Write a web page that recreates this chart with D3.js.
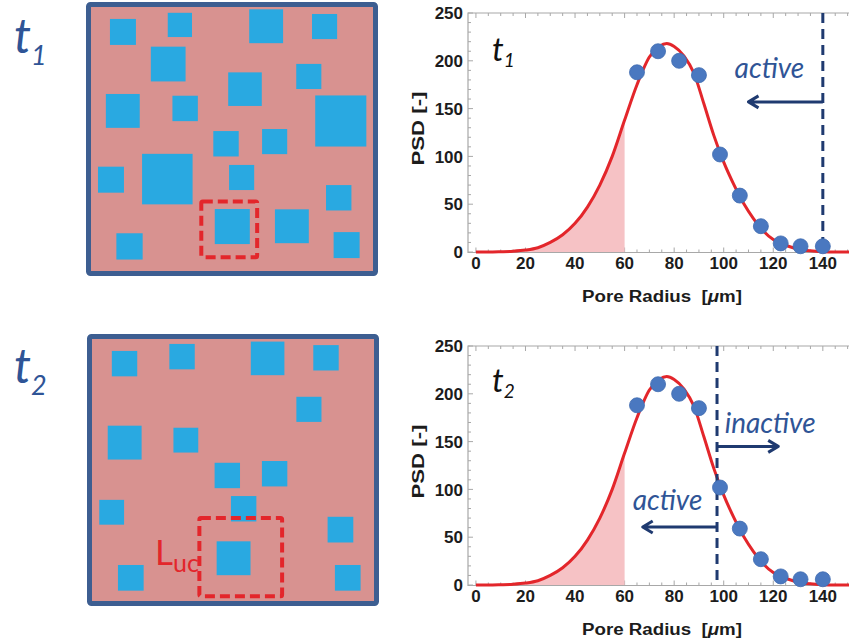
<!DOCTYPE html>
<html>
<head>
<meta charset="utf-8">
<script src="https://cdn.jsdelivr.net/npm/d3@7"></script>
<style>
	body { margin: 0; background: #fff; }
	svg { display: block; }
	.tick-label { font-family: "Liberation Sans", Arial, sans-serif; font-weight: bold; font-size: 17px; fill: #1c1c1c; }
	.axis-title { font-family: "Liberation Sans", Arial, sans-serif; font-weight: bold; font-size: 16px; fill: #1c1c1c; white-space: pre; }
	.note { font-family: Lato, "Noto Sans", sans-serif; font-style: italic; }
</style>
</head>
<body>
<div id="chart"></div>
<script>
// Fitted PSD curve
const curveX = [0, 5, 10, 15, 20, 25, 30, 35, 40, 45, 50, 55, 60, 65, 70, 74, 77, 80, 84, 88, 92, 96, 100, 104, 108, 112, 116, 120, 124, 128, 132, 136, 140, 145, 158];
const curveY = [0, 0, 0.3, 0.8, 2, 4.5, 10, 18, 30, 47, 70, 100, 138, 175, 204, 215, 218, 215, 205, 187, 155, 122, 94, 71, 51, 35, 22, 13, 8, 4.5, 2, 1, 0.3, 0, 0];

// Measured points
const dotX = [65, 73.5, 82, 90, 98.5, 106.5, 115, 123, 131, 140];
const dotY = [188, 210, 200, 185, 102, 59, 27, 9, 6, 6];

const xTicks = [0, 20, 40, 60, 80, 100, 120, 140];
const yTicks = [0, 50, 100, 150, 200, 250];
const shadeLimit = 60;

// Panel t1 / t2: cutoff radius
const cutoffs = [140, 97.3];
const timeLabels = ["1", "2"];

// Microstructure squares [x, y, size] in panel units (frame width = 100)
const squaresT1 = [
	[8.2, 5.8, 8.9], [28.0, 3.7, 8.3], [55.9, 2.5, 11.6], [77.4, 4.1, 8.6],
	[22.2, 15.3, 11.9], [48.7, 24.1, 11.5], [72.0, 21.2, 8.6], [6.8, 31.5, 11.6],
	[29.6, 32.1, 8.7], [78.5, 32.0, 17.5], [43.6, 44.2, 8.7], [60.3, 43.5, 8.6],
	[4.1, 56.4, 8.9], [19.2, 52.0, 17.3], [49.0, 55.8, 8.6], [82.2, 62.7, 8.7],
	[44.1, 70.9, 12.0], [64.7, 71.0, 11.6], [10.4, 79.2, 9.0], [84.8, 78.8, 8.9]
];
const squaresT2 = [
	[8.5, 5.8, 8.7], [28.2, 3.4, 8.7], [56.1, 2.6, 11.5], [77.5, 3.8, 8.7],
	[71.7, 21.5, 8.6], [7.1, 31.4, 11.6], [29.6, 32.1, 8.5], [43.7, 44.1, 8.7],
	[59.9, 43.5, 8.7], [4.2, 56.8, 8.5], [49.3, 55.5, 8.7], [82.4, 62.6, 8.8],
	[44.4, 71.0, 11.6], [10.6, 79.1, 8.8], [84.9, 79.1, 8.8]
];
// Unit cell boxes [x, y, w, h]
const cellT1 = [38.8, 67.6, 20.5, 20.5];
const cellT2 = [37.8, 62.3, 29.7, 28.2];

const W = 849, H = 642;
const svg = d3.select("#chart").append("svg").attr("width", W).attr("height", H);

const blue = "#2f5496";
const navy = "#1f3a70";
const red = "#e3262b";

// ---------- left panels ----------
function drawPanel(fx, fy, fh, squares, cell, sub, labelY) {
	const sx = d3.scaleLinear().domain([0, 100]).range([fx, fx + 292]);
	const sy = d3.scaleLinear().domain([0, 100]).range([fy, fy + 292]);
	const k = 2.92;
	const g = svg.append("g");

	g.append("rect")
		.attr("x", fx + 2.5).attr("y", fy + 2.5)
		.attr("width", 287).attr("height", fh - 5)
		.attr("rx", 2)
		.style("fill", "#d89290")
		.style("stroke", "#3d5e91")
		.style("stroke-width", 5);

	g.selectAll("rect.pore")
		.data(squares)
		.enter()
		.append("rect")
		.attr("class", "pore")
		.attr("x", (d) => sx(d[0]))
		.attr("y", (d) => sy(d[1]))
		.attr("width", (d) => d[2] * k)
		.attr("height", (d) => d[2] * k)
		.style("fill", "#29a9e1");

	g.append("rect")
		.attr("x", sx(cell[0]) + 2).attr("y", sy(cell[1]) + 2)
		.attr("width", cell[2] * k - 4).attr("height", cell[3] * k - 4)
		.attr("rx", 1.5)
		.style("fill", "none")
		.style("stroke", red)
		.style("stroke-width", 4)
		.style("stroke-dasharray", "10,5");

	const t = svg.append("text").attr("class", "note")
		.attr("x", 14).attr("y", labelY)
		.style("fill", blue);
	t.append("tspan").style("font-size", "48px").text("t");
	t.append("tspan").attr("dy", 12).style("font-size", "27px").text(sub);
	return { sx, sy };
}

drawPanel(86, 2, 274, squaresT1, cellT1, "1", 53);
drawPanel(87, 334, 272, squaresT2, cellT2, "2", 383);

const luc = svg.append("text").attr("class", "note")
	.attr("x", 155).attr("y", 565)
	.style("font-style", "normal")
	.style("fill", red);
luc.append("tspan").style("font-size", "35px").text("L");
luc.append("tspan").attr("dy", 7).style("font-size", "25px").text("uc");

// ---------- PSD charts ----------
const xScale = d3.scaleLinear().domain([-3.2, 155]).range([468, 860]);

function drawChart(oy, idx) {
	const yScale = d3.scaleLinear().domain([0, 250]).range([252 + oy, 13 + oy]);
	const g = svg.append("g");
	const x0 = xScale.range()[0];
	const yb = yScale(0) + 0.5;
	const yt = yScale(250);

	// frame
	g.append("path")
		.attr("d", `M${W},${yt}H${x0}V${yb}H${W}`)
		.style("fill", "none")
		.style("stroke", "#a8a8a8")
		.style("stroke-width", 1.2);

	// minor + major ticks
	const xMinor = d3.range(0, 156, 5);
	g.selectAll("line.xt")
		.data(xMinor)
		.enter()
		.append("line")
		.attr("x1", (d) => xScale(d)).attr("x2", (d) => xScale(d))
		.attr("y1", yb).attr("y2", (d) => yb - (d % 20 === 0 ? 5 : 3))
		.style("stroke", "#a8a8a8");
	g.selectAll("line.xtt")
		.data(xMinor)
		.enter()
		.append("line")
		.attr("x1", (d) => xScale(d)).attr("x2", (d) => xScale(d))
		.attr("y1", yt).attr("y2", (d) => yt + (d % 20 === 0 ? 5 : 3))
		.style("stroke", "#a8a8a8");
	g.selectAll("line.yt")
		.data(d3.range(0, 251, 10))
		.enter()
		.append("line")
		.attr("x1", x0).attr("x2", (d) => x0 + (d % 50 === 0 ? 5 : 3))
		.attr("y1", (d) => yScale(d)).attr("y2", (d) => yScale(d))
		.style("stroke", "#a8a8a8");

	// tick labels
	g.selectAll("text.yl")
		.data(yTicks)
		.enter()
		.append("text")
		.attr("class", "tick-label")
		.attr("x", x0 - 5)
		.attr("y", (d) => yScale(d))
		.attr("dy", "0.36em")
		.style("text-anchor", "end")
		.text((d) => d);
	g.selectAll("text.xl")
		.data(xTicks)
		.enter()
		.append("text")
		.attr("class", "tick-label")
		.attr("x", (d) => xScale(d))
		.attr("y", yb + 16)
		.style("text-anchor", "middle")
		.text((d) => d);

	const xt = g.append("text")
		.attr("class", "axis-title")
		.attr("x", 662).attr("y", yb + 49)
		.attr("textLength", 160)
		.attr("lengthAdjust", "spacingAndGlyphs")
		.style("text-anchor", "middle");
	xt.append("tspan").text("Pore Radius\u00a0\u00a0[");
	xt.append("tspan").style("font-style", "italic").text("\u03bc");
	xt.append("tspan").text("m]");
	g.append("text")
		.attr("class", "axis-title")
		.attr("transform", `translate(424,${128.5 + oy}) rotate(-90)`)
		.attr("textLength", 74)
		.attr("lengthAdjust", "spacingAndGlyphs")
		.style("text-anchor", "middle")
		.text("PSD [-]");

	// curve data
	const pts = curveX.map((x, i) => ({ x, y: curveY[i] }));
	const shade = pts.filter((d) => d.x <= shadeLimit);

	g.append("path")
		.attr("d", d3.area()
			.x((d) => xScale(d.x))
			.y0(yScale(0))
			.y1((d) => yScale(d.y))
			.curve(d3.curveMonotoneX)(shade))
		.style("fill", "#f6c2c5");

	g.append("path")
		.attr("d", d3.line()
			.x((d) => xScale(d.x))
			.y((d) => yScale(d.y))
			.curve(d3.curveMonotoneX)(pts))
		.style("fill", "none")
		.style("stroke", red)
		.style("stroke-width", 3);

	// cutoff
	const cx = xScale(cutoffs[idx]);
	g.append("line")
		.attr("x1", cx).attr("x2", cx)
		.attr("y1", yt).attr("y2", yScale(idx === 0 ? 9 : 3))
		.style("stroke", navy)
		.style("stroke-width", 3)
		.style("stroke-dasharray", "10,6");

	// dots
	g.selectAll("circle")
		.data(dotX.map((x, i) => ({ x, y: dotY[i] })))
		.enter()
		.append("circle")
		.attr("cx", (d) => xScale(d.x))
		.attr("cy", (d) => yScale(d.y))
		.attr("r", 7.5)
		.style("fill", "#4a78c0")
		.style("stroke", "#3f6bb0")
		.style("stroke-width", 0.8);

	// time label
	const t = g.append("text").attr("class", "note")
		.attr("x", xScale(6.5)).attr("y", yScale(idx === 0 ? 200 : 202))
		.style("fill", "#111");
	t.append("tspan").style("font-size", "33px").text("t");
	t.append("tspan").attr("dy", 6).style("font-size", "19px").text(timeLabels[idx]);

	return { g, yScale, cx };
}

function arrow(g, x1, x2, y) {
	const dir = Math.sign(x2 - x1);
	g.append("path")
		.attr("d", `M${x1},${y}H${x2}M${x2 - dir * 10},${y - 6}L${x2},${y}L${x2 - dir * 10},${y + 6}`)
		.style("fill", "none")
		.style("stroke", navy)
		.style("stroke-width", 3)
		.style("stroke-linejoin", "round");
}

function note(g, x, y, txt) {
	g.append("text").attr("class", "note")
		.attr("x", x).attr("y", y)
		.style("font-size", "28px")
		.style("fill", blue)
		.text(txt);
}

const c1 = drawChart(0, 0);
arrow(c1.g, c1.cx, xScale(110), c1.yScale(157));
note(c1.g, xScale(104.4), c1.yScale(182), "active");

const c2 = drawChart(333, 1);
arrow(c2.g, c2.cx, xScale(122), c2.yScale(145));
arrow(c2.g, c2.cx, xScale(67.3), c2.yScale(60.7));
note(c2.g, xScale(100.4), c2.yScale(159), "inactive");
note(c2.g, xScale(63.3), c2.yScale(78.5), "active");
</script>
</body>
</html>
